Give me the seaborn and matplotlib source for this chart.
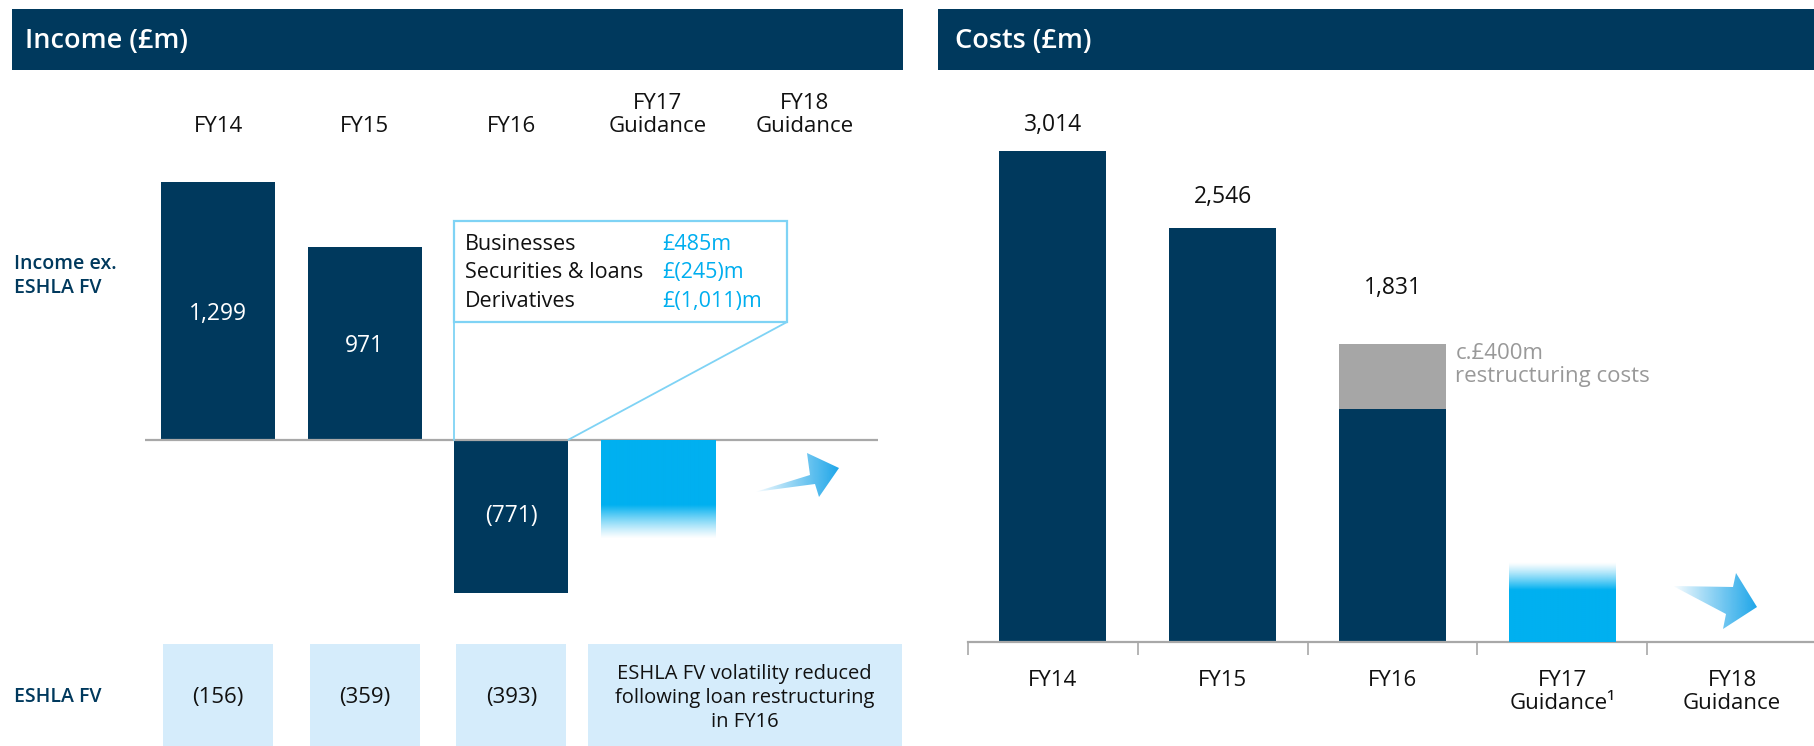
import numpy as np
import pandas as pd
import matplotlib
matplotlib.use("Agg")
import matplotlib.pyplot as plt
import matplotlib.transforms as mtransforms
from matplotlib.patches import Rectangle, Polygon
import seaborn as sns

# ---------------- data ----------------
income_cats = ["FY14", "FY15", "FY16", "FY17\nGuidance", "FY18\nGuidance"]
income_values = [1299, 971, -771, -500]          # FY17 guidance is an indicative (gradient) bar
income_labels = ["1,299", "971", "(771)", ""]
eshla_values = ["(156)", "(359)", "(393)"]
eshla_note = "ESHLA FV volatility reduced\nfollowing loan restructuring\nin FY16"
callout_items = ["Businesses", "Securities & loans", "Derivatives"]
callout_values = ["£485m", "£(245)m", "£(1,011)m"]

cost_cats = ["FY14", "FY15", "FY16", "FY17\nGuidance¹", "FY18\nGuidance"]
cost_base = [3014, 2546, 1431, 490]              # FY17 guidance is indicative (gradient) bar
cost_restructuring = [0, 0, 400, 0]
cost_total_labels = ["3,014", "2,546", "1,831"]

# ---------------- style ----------------
NAVY = "#00395D"
CYAN = "#00AEEF"
LIGHT = "#D5ECFB"
GREY = "#A6A6A6"
LINE = "#A8A8A8"
CALLOUT = "#7FD3F5"

sns.set_theme(style="white")
plt.rcParams["font.family"] = ["Open Sans", "DejaVu Sans"]

W, H = 1814, 746
fig = plt.figure(figsize=(W / 100, H / 100), dpi=100)


def fbox(x0, y0, x1, y1):
    """pixel box (top-left origin) -> figure fraction rect"""
    return [x0 / W, 1 - y1 / H, (x1 - x0) / W, (y1 - y0) / H]


def gradient_fill(ax, p, solid_from, fade_to_top):
    """replace a bar patch by a vertical cyan gradient clipped to it"""
    p.set_facecolor("none")
    p.set_edgecolor("none")
    y0, y1 = p.get_y(), p.get_y() + p.get_height()
    lo, hi = min(y0, y1), max(y0, y1)
    n = 200
    ys = np.linspace(lo, hi, n)
    if fade_to_top:
        alpha = np.clip((hi - ys) / (hi - solid_from), 0, 1) ** 1.2
    else:
        alpha = np.clip((ys - lo) / (solid_from - lo), 0, 1) ** 1.2
    img = np.zeros((n, 1, 4))
    img[..., :3] = matplotlib.colors.to_rgb("#00B0F0")
    img[:, 0, 3] = alpha
    im = ax.imshow(img, extent=[p.get_x(), p.get_x() + p.get_width(), lo, hi],
                   origin="lower", aspect="auto", zorder=3)
    im.set_clip_path(p)


# ================= LEFT: Income =================
axL = fig.add_axes(fbox(144.8, 75, 877.8, 746))
dfL = pd.DataFrame({"cat": income_cats[:4], "val": income_values})
palL = {c: NAVY for c in income_cats}
sns.barplot(data=dfL, x="cat", y="val", order=income_cats, hue="cat",
            palette=palL, width=0.78, legend=False, ax=axL, saturation=1,
            linewidth=0, edgecolor="none")
axL.axis("off")
axL.axhline(0, color=LINE, lw=1.6, zorder=1)

for p in axL.patches:
    if abs(p.get_x() + p.get_width() / 2 - 3) < 0.1:
        gradient_fill(axL, p, -330, fade_to_top=False)
axL.set_xlim(-0.5, 4.5)
axL.set_ylim(-1541.5, 1835.4)

# labels inside bars
for i, (v, lab) in enumerate(zip(income_values, income_labels)):
    if lab:
        axL.text(i, v / 2 - (15 if v > 0 else 0), lab, ha="center", va="center",
                 color="white", fontsize=16.5)

# column headers
blendL = mtransforms.blended_transform_factory(axL.transData, fig.transFigure)
for i, c in enumerate(income_cats):
    axL.text(i, 1 - 137 / H, c, transform=blendL, ha="center", va="bottom",
             fontsize=16, color="#111111", linespacing=1.15)

# callout box
bw = 0.78 / 2
cx0, cx1 = 2 - bw, 3.88
cy0, cy1 = 592, 1100
axL.add_patch(Rectangle((cx0, cy0), cx1 - cx0, cy1 - cy0, fill=False,
                        edgecolor=CALLOUT, lw=1.6, zorder=3))
axL.plot([cx0, cx0], [cy0, 0], color=CALLOUT, lw=1.3, zorder=3)
axL.plot([cx1, 2 + bw], [cy0, 0], color=CALLOUT, lw=1.3, zorder=3)
for k, (name, val) in enumerate(zip(callout_items, callout_values)):
    yy = 980 - k * 141
    axL.text(1.684, yy, name, ha="left", va="center", fontsize=15.5, color="#111111")
    axL.text(3.028, yy, val, ha="left", va="center", fontsize=15.5, color=CYAN)

# ESHLA FV row
for i, v in enumerate(eshla_values):
    axL.add_patch(Rectangle((i - 0.375, 1 - 746 / H), 0.75, (746 - 644) / H,
                            transform=blendL, facecolor=LIGHT, edgecolor="none",
                            clip_on=False))
    axL.text(i, 1 - 697 / H, v, transform=blendL, ha="center", va="center",
             fontsize=16, color="#111111")
axL.add_patch(Rectangle((2.52, 1 - 746 / H), 4.665 - 2.52, (746 - 644) / H,
                        transform=blendL, facecolor=LIGHT, edgecolor="none",
                        clip_on=False))
axL.text((2.52 + 4.665) / 2, 1 - 698 / H, eshla_note, transform=blendL,
         ha="center", va="center", fontsize=14.5, color="#111111", linespacing=1.25)

# ================= RIGHT: Costs =================
axR = fig.add_axes(fbox(968, 75, 1814, 642.1))
dfR = pd.DataFrame({"cat": cost_cats[:4], "base": cost_base,
                    "restr": cost_restructuring})
dfR["total"] = dfR["base"] + dfR["restr"]
sns.barplot(data=dfR, x="cat", y="total", order=cost_cats, color=GREY,
            width=0.63, ax=axR, saturation=1, linewidth=0, edgecolor="none")
n_grey = len(axR.patches)
sns.barplot(data=dfR, x="cat", y="base", order=cost_cats, color=NAVY,
            width=0.63, ax=axR, saturation=1, linewidth=0, edgecolor="none")

for k, p in enumerate(axR.patches):
    if abs(p.get_x() + p.get_width() / 2 - 3) < 0.1:
        if k < n_grey:
            p.set_visible(False)
        else:
            gradient_fill(axR, p, 320, fade_to_top=True)
axR.set_xlim(-0.5, 4.482)
axR.set_ylim(0, 3483)

# total labels above bars
offsets = [19, 22, 40]
for i, lab in enumerate(cost_total_labels):
    axR.annotate(lab, (i, dfR["total"][i]), xytext=(0, offsets[i]),
                 textcoords="offset points", ha="center", va="center",
                 fontsize=16.5, color="#111111")

axR.text(2.37, 1831 - 128, "c.£400m\nrestructuring costs", ha="left", va="center",
         fontsize=16, color="#999999", linespacing=1.15)

for s in ["top", "right", "left"]:
    axR.spines[s].set_visible(False)
axR.spines["bottom"].set_color(LINE)
axR.spines["bottom"].set_linewidth(1.6)
axR.set_yticks([])
axR.set_xlabel("")
axR.set_ylabel("")
axR.set_xticks(range(5))
axR.set_xticklabels(cost_cats, fontsize=16, color="#111111", linespacing=1.15)
axR.set_xticks(np.arange(-0.5, 4, 1), minor=True)
axR.tick_params(axis="x", which="major", length=0, pad=20)
axR.tick_params(axis="x", which="minor", length=9, width=1.2, color=LINE,
                direction="out", bottom=True)
axR.grid(False)

# ================= overlay: headers, row labels, arrows =================
ov = fig.add_axes([0, 0, 1, 1], zorder=-1)
ov.set_xlim(0, W)
ov.set_ylim(H, 0)
ov.axis("off")
ov.patch.set_alpha(0)

ov.add_patch(Rectangle((12, 9), 903 - 12, 61, facecolor=NAVY, edgecolor="none"))
ov.add_patch(Rectangle((938, 9), W - 938, 61, facecolor=NAVY, edgecolor="none"))
ov.text(25, 41, "Income (£m)", color="white", fontsize=19.5, fontweight="semibold",
        va="center", ha="left")
ov.text(955, 41, "Costs (£m)", color="white", fontsize=19.5, fontweight="semibold",
        va="center", ha="left")

ov.text(14, 276, "Income ex.\nESHLA FV", color=NAVY, fontsize=14, fontweight="semibold",
        va="center", ha="left", linespacing=1.3)
ov.text(14, 697, "ESHLA FV", color=NAVY, fontsize=14, fontweight="semibold",
        va="center", ha="left")

ov2 = fig.add_axes([0, 0, 1, 1], zorder=5)
ov2.axis("off")
ov2.patch.set_alpha(0)


def grad_arrow(pts):
    poly = Polygon(pts, closed=True, facecolor="none", edgecolor="none")
    ov2.add_patch(poly)
    xs = [p[0] for p in pts]
    ys = [p[1] for p in pts]
    n = 200
    img = np.zeros((1, n, 4))
    img[..., :3] = matplotlib.colors.to_rgb("#1FA6E9")
    img[0, :, 3] = np.linspace(0, 1, n) ** 0.9
    im = ov2.imshow(img, extent=[min(xs), max(xs), max(ys), min(ys)],
                    aspect="auto", zorder=5)
    im.set_clip_path(poly)


grad_arrow([(755, 492), (810, 475), (807, 453), (839, 468), (819, 497), (815, 484)])
grad_arrow([(1673, 586), (1733, 587), (1736, 573), (1757, 607), (1723, 629),
            (1726, 614)])
ov2.set_xlim(0, W)
ov2.set_ylim(H, 0)

fig.savefig("out.png", dpi=100)
